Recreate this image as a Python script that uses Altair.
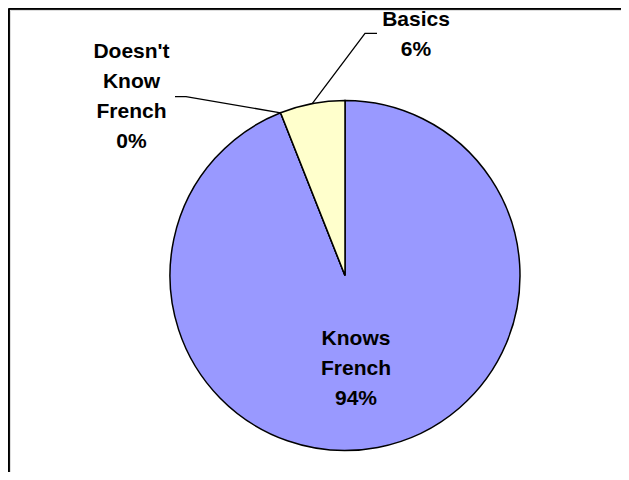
import altair as alt
import pandas as pd
import numpy as np

# ---- data ----
categories = ["Knows French", "Doesn't Know French", "Basics"]
shares = [94, 0, 6]
slice_colors = ["#9999FF", "#FFFFFF", "#FFFFCC"]
label_texts = ["Knows\nFrench\n94%", "Doesn't\nKnow\nFrench\n0%", "Basics\n6%"]

# ---- layout (page pixels) ----
PAD = 2
O = 8 + PAD            # page offset of the view origin
W = 629 - 16 - PAD
H = 480 - 16 - PAD
CX, CY, R = 345 - O, 275.5 - O, 175
label_x = [356 - O, 131.5 - O, 416 - O]
label_y = [339 - O, 52 - O, 20 - O]   # centre of first line
leader_end = [None, [(175 - O, 96.7 - O), (186 - O, 96.7 - O)], [(377 - O, 33.3 - O), (365 - O, 33.3 - O)]]

df = pd.DataFrame({"category": categories, "share": shares, "ord": list(range(len(categories)))})
lab = pd.DataFrame({"category": categories, "text": label_texts, "lx": label_x, "ly": label_y})

# leader lines: start at pie edge at slice middle angle (computed from data)
tot = float(sum(shares))
cum = np.cumsum([0] + shares) / tot * 2 * np.pi
rows = []
for i, c in enumerate(categories):
    if leader_end[i] is None:
        continue
    mid = (cum[i] + cum[i + 1]) / 2
    ex, ey = CX + R * np.sin(mid), CY - R * np.cos(mid)
    pts = list(leader_end[i]) + [(ex, ey)]
    for k, (px, py) in enumerate(pts):
        rows.append({"category": c, "seq": k, "px": px, "py": py})
lead = pd.DataFrame(rows)

xs = alt.Scale(domain=[0, W], range=[0, W])
ys = alt.Scale(domain=[0, H], range=[0, H])

pie = alt.Chart(df).mark_arc(outerRadius=R, stroke="black", strokeWidth=1.5).encode(
    theta=alt.Theta("share:Q", stack=True),
    order=alt.Order("ord:Q"),
    color=alt.Color("category:N", scale=alt.Scale(domain=categories, range=slice_colors), legend=None),
    x=alt.value(CX),
    y=alt.value(CY),
)

lines = alt.Chart(lead).mark_line(color="black", strokeWidth=1.3).encode(
    x=alt.X("px:Q", scale=xs, axis=None),
    y=alt.Y("py:Q", scale=ys, axis=None),
    detail="category:N",
    order="seq:Q",
)

texts = alt.Chart(lab).mark_text(
    font="Liberation Sans", fontSize=21, fontWeight="bold", color="black",
    align="center", baseline="middle", lineBreak="\n", lineHeight=30,
).encode(
    x=alt.X("lx:Q", scale=xs, axis=None),
    y=alt.Y("ly:Q", scale=ys, axis=None),
    text="text:N",
)

frame_left = alt.Chart(df).mark_rule(color="black", strokeWidth=1.6).encode(
    x=alt.value(-1.2), y=alt.value(-1.2), y2=alt.value(H + 10)
)
frame_top = alt.Chart(df).mark_rule(color="black", strokeWidth=1.6).encode(
    x=alt.value(-1.2), x2=alt.value(W + 10), y=alt.value(-1.2)
)

chart = alt.layer(frame_left, frame_top, pie, lines, texts).properties(
    width=W, height=H,
    padding={"left": PAD, "top": PAD, "right": 0, "bottom": 0},
    autosize=alt.AutoSizeParams(type="none"),
).configure_view(stroke=None).configure(background="white")

chart.save("out.html", embed_options={"renderer": "svg", "actions": False})
